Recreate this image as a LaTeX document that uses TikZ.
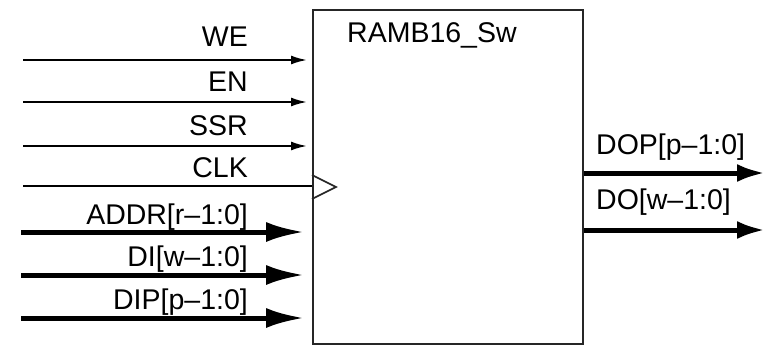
\documentclass[tikz,border=0pt]{standalone}
\usepackage{fontspec}
\setmainfont{Liberation Sans}
\usetikzlibrary{arrows.meta,calc}
\begin{document}
\begin{tikzpicture}[x=1pt,y=-1pt,
  lbl/.style={inner sep=0pt,anchor=base east,font=\fontsize{28.5}{32}\selectfont},
  rlbl/.style={inner sep=0pt,anchor=base west,font=\fontsize{28.5}{32}\selectfont},
  thinsig/.style={line width=2pt,-{Latex[length=16pt,width=9pt]},shorten >=5pt},
  thicksig/.style={line width=5pt,-{Latex[length=38pt,width=20pt]},shorten >=8pt},
  outsig/.style={line width=5pt,-{Latex[length=28pt,width=18pt]}},
  blk/.style={draw=black!85,line width=2pt,minimum width=270pt,minimum height=333pt,inner sep=0pt}]
\useasboundingbox (0,0) rectangle (765,345);
\node[blk] (ram) at (448,177) {};
\node[rlbl] (title) at (347,42) {RAMB16\_Sw};
% input labels
\node[lbl] (lwe) at (248,47) {WE};
\node[lbl] (len) at (248,92) {EN};
\node[lbl] (lssr) at (248,135) {SSR};
\node[lbl] (lclk) at (248,177) {CLK};
\node[lbl] (laddr) at (248,224) {ADDR[r–1:0]};
\node[lbl] (ldi) at (248,266) {DI[w–1:0]};
\node[lbl] (ldip) at (248,309) {DIP[p–1:0]};
% input start points
\coordinate (swe) at (23,60);
\coordinate (sen) at (23,102);
\coordinate (sssr) at (23,146);
\coordinate (sclk) at (23,186);
\coordinate (saddr) at (21,232);
\coordinate (sdi) at (21,275);
\coordinate (sdip) at (21,318);
\draw[thinsig] (swe) -- (ram.west |- swe);
\draw[thinsig] (sen) -- (ram.west |- sen);
\draw[thinsig] (sssr) -- (ram.west |- sssr);
\draw[line width=2pt] (sclk) -- (ram.west |- sclk);
\draw[line width=1.6pt,draw=black!85] ($(ram.west |- sclk)+(0,-11)$) -- ($(ram.west |- sclk)+(24,1)$) -- ($(ram.west |- sclk)+(0,13)$);
\draw[thicksig] (saddr) -- (ram.west |- saddr);
\draw[thicksig] (sdi) -- (ram.west |- sdi);
\draw[thicksig] (sdip) -- (ram.west |- sdip);
% outputs
\coordinate (edop) at (765,173);
\coordinate (edo) at (765,230);
\draw[outsig] (ram.east |- edop) -- (edop);
\draw[outsig] (ram.east |- edo) -- (edo);
\node[rlbl] (ldop) at (596,154) {DOP[p–1:0]};
\node[rlbl] (ldo) at (596,209) {DO[w–1:0]};
\end{tikzpicture}
\end{document}
